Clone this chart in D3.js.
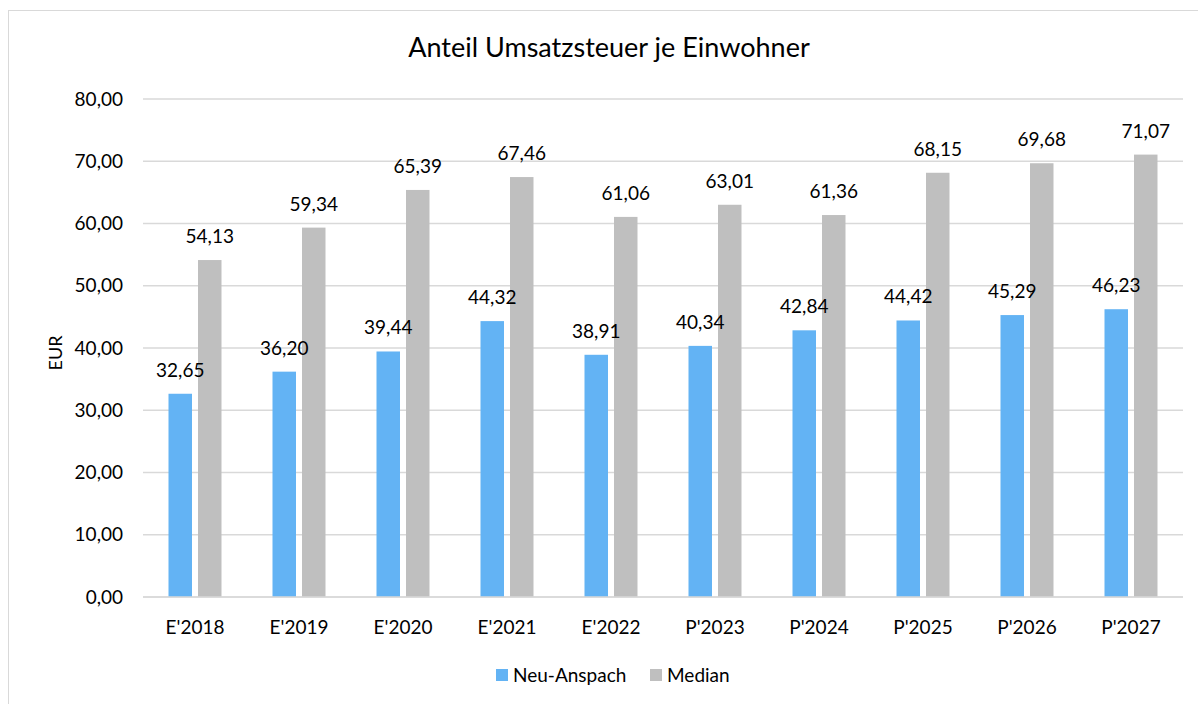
<!DOCTYPE html>
<html>
<head>
<meta charset="utf-8">
<script src="https://cdn.jsdelivr.net/npm/d3@7"></script>
<style>
  body { margin: 0; background: #fff; }
  text { font-family: Lato, "Open Sans", sans-serif; fill: #000; }
</style>
</head>
<body>
<div id="chart"></div>
<script>
const categories = ["E'2018", "E'2019", "E'2020", "E'2021", "E'2022", "P'2023", "P'2024", "P'2025", "P'2026", "P'2027"];
const neuAnspach = [32.65, 36.20, 39.44, 44.32, 38.91, 40.34, 42.84, 44.42, 45.29, 46.23];
const median = [54.13, 59.34, 65.39, 67.46, 61.06, 63.01, 61.36, 68.15, 69.68, 71.07];
const yTicks = [0, 10, 20, 30, 40, 50, 60, 70, 80];
const seriesNames = ["Neu-Anspach", "Median"];

const W = 1198, H = 704,
  margin = { top: 99, right: 15, bottom: 107, left: 143 },
  width = W - margin.left - margin.right,
  height = H - margin.top - margin.bottom,
  colorA = "#63b3f4",
  colorB = "#bfbfbf";

const fmt = v => v.toFixed(2).replace(".", ",");

const svgRoot = d3.select("#chart").append("svg")
  .attr("width", W).attr("height", H);

// outer chart border
svgRoot.append("rect")
  .attr("x", 8.5).attr("y", 10.5)
  .attr("width", W + 20).attr("height", H + 20)
  .attr("fill", "none").attr("stroke", "#d9d9d9");

svgRoot.append("text")
  .attr("x", 609).attr("y", 57)
  .attr("text-anchor", "middle")
  .style("font-size", "27px")
  .text("Anteil Umsatzsteuer je Einwohner");

const svg = svgRoot.append("g")
  .attr("transform", "translate(" + margin.left + "," + margin.top + ")");

const x = d3.scaleBand().domain(categories).range([0, width]).padding(0);
const y = d3.scaleLinear().domain([0, 80]).range([height, 0]);

const barWidth = 23.5, barGap = 6;

// gridlines
svg.selectAll(".grid")
  .data(yTicks)
  .enter()
  .append("line")
  .attr("x1", 0).attr("x2", width)
  .attr("y1", d => y(d)).attr("y2", d => y(d))
  .attr("stroke", "#d9d9d9").attr("stroke-width", 1.5);

// y tick labels
svg.selectAll(".ytick")
  .data(yTicks)
  .enter()
  .append("text")
  .attr("x", -20)
  .attr("y", d => y(d))
  .attr("dy", "0.35em")
  .attr("text-anchor", "end")
  .style("font-size", "19px")
  .text(d => fmt(d));

const groups = [neuAnspach, median];
const colors = [colorA, colorB];
const offsets = [-barGap / 2 - barWidth, barGap / 2];

groups.forEach((vals, s) => {
  svg.selectAll(".bar" + s)
    .data(vals)
    .enter()
    .append("rect")
    .attr("class", "bar" + s)
    .attr("x", (d, i) => x(categories[i]) + x.bandwidth() / 2 + offsets[s])
    .attr("width", barWidth)
    .attr("y", d => y(d))
    .attr("height", d => height - y(d))
    .style("fill", colors[s]);
});

// baseline
svg.append("line")
  .attr("x1", 0).attr("x2", width)
  .attr("y1", y(0)).attr("y2", y(0))
  .attr("stroke", "#d9d9d9").attr("stroke-width", 1.5);

// value labels on top of everything
groups.forEach((vals, s) => {
  svg.selectAll(".lab" + s)
    .data(vals)
    .enter()
    .append("text")
    .attr("class", "lab" + s)
    .attr("x", (d, i) => x(categories[i]) + x.bandwidth() / 2 + offsets[s] + barWidth / 2)
    .attr("y", d => y(d) - 17)
    .attr("text-anchor", "middle")
    .style("font-size", "19px")
    .text(d => fmt(d));
});

// x labels
svg.selectAll(".xlab")
  .data(categories)
  .enter()
  .append("text")
  .attr("x", d => x(d) + x.bandwidth() / 2)
  .attr("y", height + 37)
  .attr("text-anchor", "middle")
  .style("font-size", "19px")
  .text(d => d);

// y axis title
svgRoot.append("text")
  .attr("transform", "translate(62,353) rotate(-90)")
  .attr("text-anchor", "middle")
  .style("font-size", "18px")
  .text("EUR");

// legend
const legendX = [496, 650];
seriesNames.forEach((name, i) => {
  svgRoot.append("rect")
    .attr("x", legendX[i]).attr("y", 669)
    .attr("width", 12).attr("height", 12)
    .style("fill", colors[i]);
  svgRoot.append("text")
    .attr("x", legendX[i] + 17).attr("y", 682)
    .style("font-size", "19px")
    .text(name);
});
</script>
</body>
</html>
